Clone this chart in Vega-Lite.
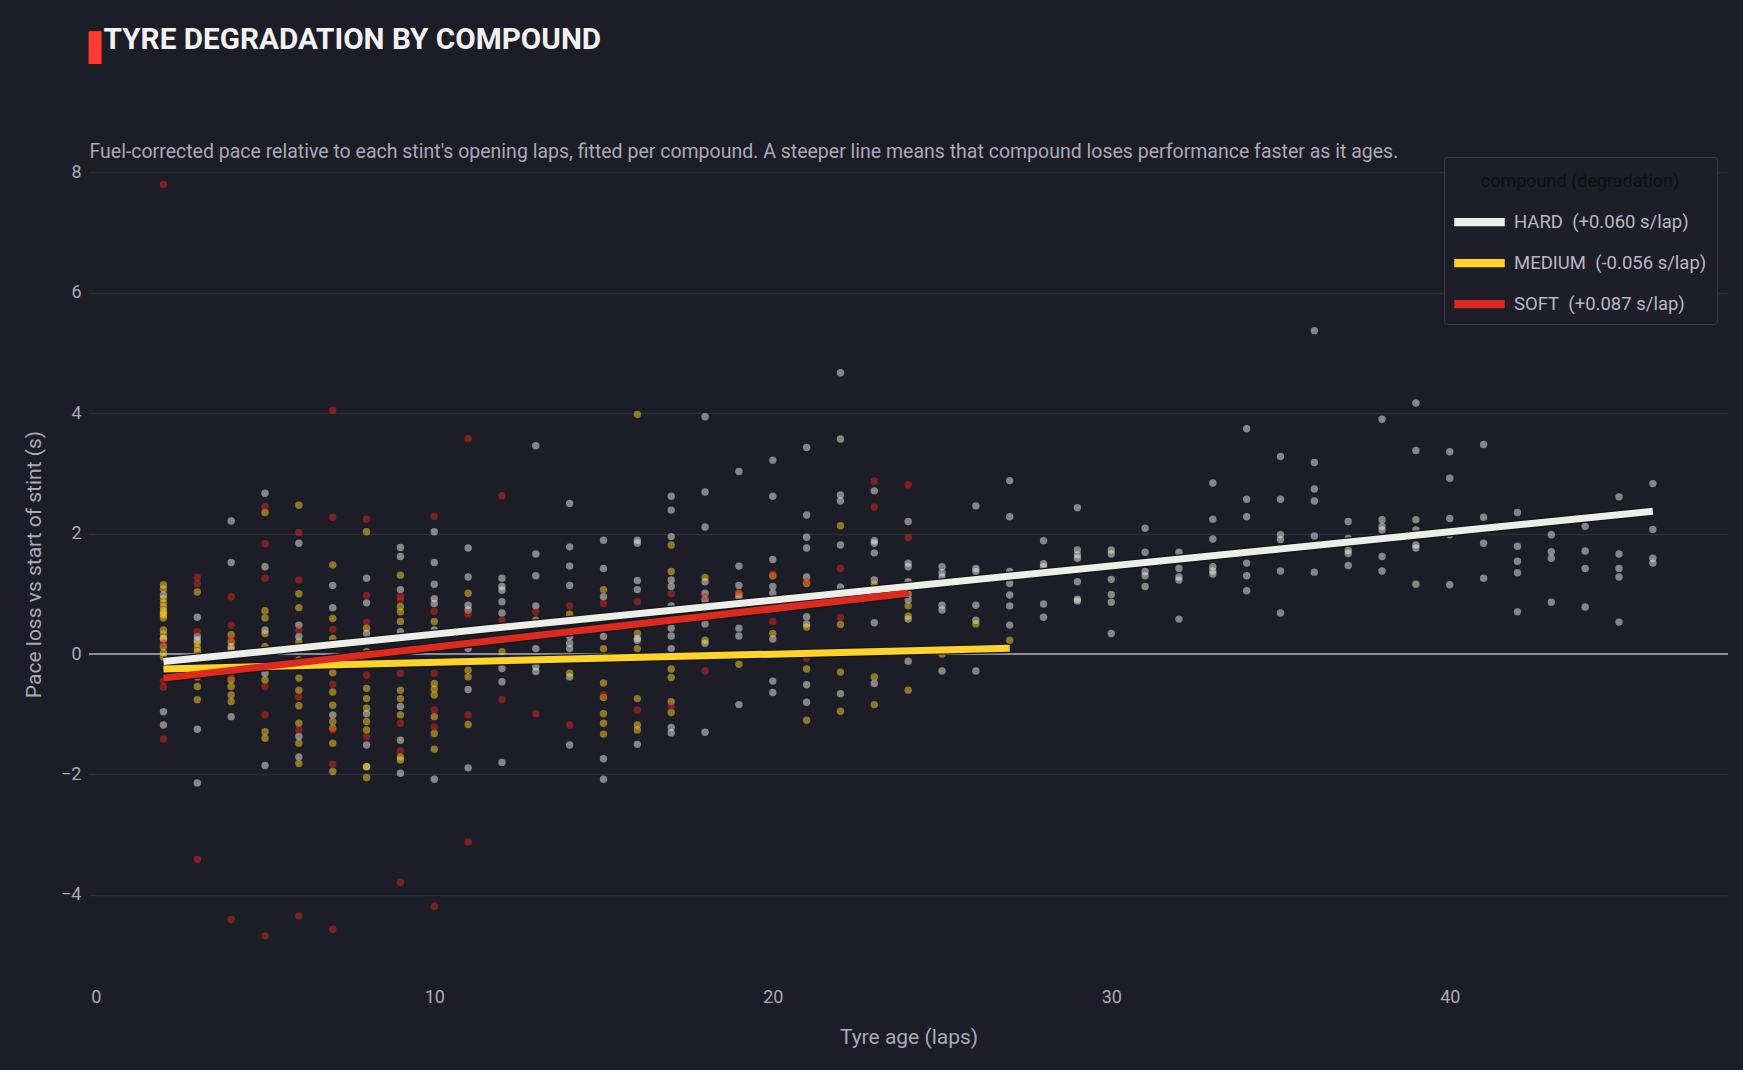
{
"$schema": "https://vega.github.io/schema/vega-lite/v6.json",
"width": 1639, "height": 834,
"autosize": {"type": "none"},
"padding": {"left": 89, "top": 147, "right": 15, "bottom": 89},
"background": "#1d1d27",
"title": {"text": "TYRE DEGRADATION BY COMPOUND", "dx": 14.6},
"config": {
  "font": "Roboto",
  "view": {"stroke": null},
  "title": {"anchor": "start", "frame": "group", "color": "#f2f2f5", "font": "Roboto", "fontSize": 29.7, "fontWeight": "bold", "offset": -22},
  "axis": {"domain": false, "ticks": false, "grid": false, "labelColor": "#a9a9b8", "labelFontSize": 18, "labelFont": "Roboto", "titleColor": "#a9a9b8", "titleFontSize": 21, "titleFontWeight": "normal", "titleFont": "Roboto"},
  "axisY": {"labelPadding": 8, "titlePadding": 16},
  "axisX": {"labelPadding": 7, "titlePadding": 20}
},
"datasets": {
"pts": [
{"compound":"HARD","age":2,"delta":0.98},{"compound":"HARD","age":2,"delta":0.25},{"compound":"HARD","age":2,"delta":-0.96},{"compound":"HARD","age":2,"delta":-1.18},
{"compound":"HARD","age":3,"delta":0.61},{"compound":"HARD","age":3,"delta":0.29},{"compound":"HARD","age":3,"delta":0.23},{"compound":"HARD","age":3,"delta":-1.25},{"compound":"HARD","age":3,"delta":-2.14},
{"compound":"HARD","age":4,"delta":2.21},{"compound":"HARD","age":4,"delta":1.52},{"compound":"HARD","age":4,"delta":0.12},{"compound":"HARD","age":4,"delta":-1.04},
{"compound":"HARD","age":5,"delta":2.67},{"compound":"HARD","age":5,"delta":1.45},{"compound":"HARD","age":5,"delta":0.4},{"compound":"HARD","age":5,"delta":-0.32},{"compound":"HARD","age":5,"delta":-1.85},
{"compound":"HARD","age":6,"delta":1.84},{"compound":"HARD","age":6,"delta":0.48},{"compound":"HARD","age":6,"delta":0.29},{"compound":"HARD","age":6,"delta":-1.37},{"compound":"HARD","age":6,"delta":-1.71},
{"compound":"HARD","age":7,"delta":1.14},{"compound":"HARD","age":7,"delta":0.77},{"compound":"HARD","age":7,"delta":-1.01},
{"compound":"HARD","age":8,"delta":1.26},{"compound":"HARD","age":8,"delta":0.85},{"compound":"HARD","age":8,"delta":0.34},{"compound":"HARD","age":8,"delta":-0.99},{"compound":"HARD","age":8,"delta":-1.51},{"compound":"HARD","age":8,"delta":-1.87},
{"compound":"HARD","age":9,"delta":1.77},{"compound":"HARD","age":9,"delta":1.62},{"compound":"HARD","age":9,"delta":1.07},{"compound":"HARD","age":9,"delta":0.37},{"compound":"HARD","age":9,"delta":-0.87},{"compound":"HARD","age":9,"delta":-1.43},{"compound":"HARD","age":9,"delta":-1.98},
{"compound":"HARD","age":10,"delta":2.03},{"compound":"HARD","age":10,"delta":1.52},{"compound":"HARD","age":10,"delta":1.16},{"compound":"HARD","age":10,"delta":0.92},{"compound":"HARD","age":10,"delta":0.84},{"compound":"HARD","age":10,"delta":0.4},{"compound":"HARD","age":10,"delta":-2.08},
{"compound":"HARD","age":11,"delta":1.76},{"compound":"HARD","age":11,"delta":1.28},{"compound":"HARD","age":11,"delta":0.81},{"compound":"HARD","age":11,"delta":0.73},{"compound":"HARD","age":11,"delta":0.09},{"compound":"HARD","age":11,"delta":-0.59},{"compound":"HARD","age":11,"delta":-1.89},
{"compound":"HARD","age":12,"delta":1.26},{"compound":"HARD","age":12,"delta":1.12},{"compound":"HARD","age":12,"delta":1.06},{"compound":"HARD","age":12,"delta":0.87},{"compound":"HARD","age":12,"delta":0.68},{"compound":"HARD","age":12,"delta":-0.24},{"compound":"HARD","age":12,"delta":-0.46},{"compound":"HARD","age":12,"delta":-1.8},
{"compound":"HARD","age":13,"delta":3.46},{"compound":"HARD","age":13,"delta":1.66},{"compound":"HARD","age":13,"delta":1.3},{"compound":"HARD","age":13,"delta":0.8},{"compound":"HARD","age":13,"delta":0.09},{"compound":"HARD","age":13,"delta":-0.21},{"compound":"HARD","age":13,"delta":-0.29},
{"compound":"HARD","age":14,"delta":2.5},{"compound":"HARD","age":14,"delta":1.78},{"compound":"HARD","age":14,"delta":1.46},{"compound":"HARD","age":14,"delta":1.14},{"compound":"HARD","age":14,"delta":0.29},{"compound":"HARD","age":14,"delta":0.18},{"compound":"HARD","age":14,"delta":0.09},{"compound":"HARD","age":14,"delta":-0.38},{"compound":"HARD","age":14,"delta":-1.51},
{"compound":"HARD","age":15,"delta":1.89},{"compound":"HARD","age":15,"delta":1.42},{"compound":"HARD","age":15,"delta":0.95},{"compound":"HARD","age":15,"delta":0.29},{"compound":"HARD","age":15,"delta":-1.74},{"compound":"HARD","age":15,"delta":-2.08},
{"compound":"HARD","age":16,"delta":1.89},{"compound":"HARD","age":16,"delta":1.84},{"compound":"HARD","age":16,"delta":1.22},{"compound":"HARD","age":16,"delta":1.07},{"compound":"HARD","age":16,"delta":0.26},{"compound":"HARD","age":16,"delta":0.23},{"compound":"HARD","age":16,"delta":-1.5},
{"compound":"HARD","age":17,"delta":2.62},{"compound":"HARD","age":17,"delta":2.39},{"compound":"HARD","age":17,"delta":1.95},{"compound":"HARD","age":17,"delta":1.23},{"compound":"HARD","age":17,"delta":1.12},{"compound":"HARD","age":17,"delta":0.8},{"compound":"HARD","age":17,"delta":0.43},{"compound":"HARD","age":17,"delta":0.3},{"compound":"HARD","age":17,"delta":0.09},{"compound":"HARD","age":17,"delta":-1.22},{"compound":"HARD","age":17,"delta":-1.31},
{"compound":"HARD","age":18,"delta":3.94},{"compound":"HARD","age":18,"delta":2.69},{"compound":"HARD","age":18,"delta":2.11},{"compound":"HARD","age":18,"delta":1.2},{"compound":"HARD","age":18,"delta":1.01},{"compound":"HARD","age":18,"delta":0.9},{"compound":"HARD","age":18,"delta":0.5},{"compound":"HARD","age":18,"delta":0.18},{"compound":"HARD","age":18,"delta":-1.3},
{"compound":"HARD","age":19,"delta":3.03},{"compound":"HARD","age":19,"delta":1.46},{"compound":"HARD","age":19,"delta":1.14},{"compound":"HARD","age":19,"delta":0.95},{"compound":"HARD","age":19,"delta":0.43},{"compound":"HARD","age":19,"delta":0.3},{"compound":"HARD","age":19,"delta":-0.84},
{"compound":"HARD","age":20,"delta":3.22},{"compound":"HARD","age":20,"delta":2.62},{"compound":"HARD","age":20,"delta":1.57},{"compound":"HARD","age":20,"delta":1.12},{"compound":"HARD","age":20,"delta":1.01},{"compound":"HARD","age":20,"delta":0.25},{"compound":"HARD","age":20,"delta":-0.45},{"compound":"HARD","age":20,"delta":-0.64},
{"compound":"HARD","age":21,"delta":3.43},{"compound":"HARD","age":21,"delta":2.31},{"compound":"HARD","age":21,"delta":1.94},{"compound":"HARD","age":21,"delta":1.76},{"compound":"HARD","age":21,"delta":1.28},{"compound":"HARD","age":21,"delta":0.62},{"compound":"HARD","age":21,"delta":0.5},{"compound":"HARD","age":21,"delta":-0.51},{"compound":"HARD","age":21,"delta":-0.8},
{"compound":"HARD","age":22,"delta":4.67},{"compound":"HARD","age":22,"delta":3.57},{"compound":"HARD","age":22,"delta":2.64},{"compound":"HARD","age":22,"delta":2.54},{"compound":"HARD","age":22,"delta":1.81},{"compound":"HARD","age":22,"delta":1.11},{"compound":"HARD","age":22,"delta":-0.66},
{"compound":"HARD","age":23,"delta":2.71},{"compound":"HARD","age":23,"delta":1.88},{"compound":"HARD","age":23,"delta":1.84},{"compound":"HARD","age":23,"delta":1.68},{"compound":"HARD","age":23,"delta":1.23},{"compound":"HARD","age":23,"delta":0.52},{"compound":"HARD","age":23,"delta":-0.49},
{"compound":"HARD","age":24,"delta":2.2},{"compound":"HARD","age":24,"delta":1.51},{"compound":"HARD","age":24,"delta":1.45},{"compound":"HARD","age":24,"delta":1.2},{"compound":"HARD","age":24,"delta":0.9},{"compound":"HARD","age":24,"delta":0.58},{"compound":"HARD","age":24,"delta":-0.12},
{"compound":"HARD","age":25,"delta":1.45},{"compound":"HARD","age":25,"delta":1.35},{"compound":"HARD","age":25,"delta":1.28},{"compound":"HARD","age":25,"delta":0.81},{"compound":"HARD","age":25,"delta":0.73},{"compound":"HARD","age":25,"delta":-0.28},
{"compound":"HARD","age":26,"delta":2.46},{"compound":"HARD","age":26,"delta":1.42},{"compound":"HARD","age":26,"delta":1.37},{"compound":"HARD","age":26,"delta":0.81},{"compound":"HARD","age":26,"delta":0.56},{"compound":"HARD","age":26,"delta":-0.28},
{"compound":"HARD","age":27,"delta":2.88},{"compound":"HARD","age":27,"delta":2.28},{"compound":"HARD","age":27,"delta":1.37},{"compound":"HARD","age":27,"delta":1.17},{"compound":"HARD","age":27,"delta":0.98},{"compound":"HARD","age":27,"delta":0.8},{"compound":"HARD","age":27,"delta":0.48},
{"compound":"HARD","age":28,"delta":1.88},{"compound":"HARD","age":28,"delta":1.5},{"compound":"HARD","age":28,"delta":1.45},{"compound":"HARD","age":28,"delta":0.83},{"compound":"HARD","age":28,"delta":0.61},
{"compound":"HARD","age":29,"delta":2.43},{"compound":"HARD","age":29,"delta":1.73},{"compound":"HARD","age":29,"delta":1.65},{"compound":"HARD","age":29,"delta":1.59},{"compound":"HARD","age":29,"delta":1.2},{"compound":"HARD","age":29,"delta":0.91},{"compound":"HARD","age":29,"delta":0.88},
{"compound":"HARD","age":30,"delta":1.73},{"compound":"HARD","age":30,"delta":1.66},{"compound":"HARD","age":30,"delta":1.24},{"compound":"HARD","age":30,"delta":0.99},{"compound":"HARD","age":30,"delta":0.86},{"compound":"HARD","age":30,"delta":0.34},
{"compound":"HARD","age":31,"delta":2.09},{"compound":"HARD","age":31,"delta":1.69},{"compound":"HARD","age":31,"delta":1.37},{"compound":"HARD","age":31,"delta":1.3},{"compound":"HARD","age":31,"delta":1.12},
{"compound":"HARD","age":32,"delta":1.69},{"compound":"HARD","age":32,"delta":1.42},{"compound":"HARD","age":32,"delta":1.28},{"compound":"HARD","age":32,"delta":1.23},{"compound":"HARD","age":32,"delta":0.58},
{"compound":"HARD","age":33,"delta":2.84},{"compound":"HARD","age":33,"delta":2.24},{"compound":"HARD","age":33,"delta":1.91},{"compound":"HARD","age":33,"delta":1.45},{"compound":"HARD","age":33,"delta":1.38},{"compound":"HARD","age":33,"delta":1.33},
{"compound":"HARD","age":34,"delta":3.74},{"compound":"HARD","age":34,"delta":2.57},{"compound":"HARD","age":34,"delta":2.28},{"compound":"HARD","age":34,"delta":1.51},{"compound":"HARD","age":34,"delta":1.3},{"compound":"HARD","age":34,"delta":1.05},
{"compound":"HARD","age":35,"delta":3.28},{"compound":"HARD","age":35,"delta":2.57},{"compound":"HARD","age":35,"delta":1.98},{"compound":"HARD","age":35,"delta":1.9},{"compound":"HARD","age":35,"delta":1.38},{"compound":"HARD","age":35,"delta":0.68},
{"compound":"HARD","age":36,"delta":5.37},{"compound":"HARD","age":36,"delta":3.18},{"compound":"HARD","age":36,"delta":2.74},{"compound":"HARD","age":36,"delta":2.54},{"compound":"HARD","age":36,"delta":1.96},{"compound":"HARD","age":36,"delta":1.36},
{"compound":"HARD","age":37,"delta":2.2},{"compound":"HARD","age":37,"delta":1.92},{"compound":"HARD","age":37,"delta":1.72},{"compound":"HARD","age":37,"delta":1.67},{"compound":"HARD","age":37,"delta":1.47},
{"compound":"HARD","age":38,"delta":3.9},{"compound":"HARD","age":38,"delta":2.23},{"compound":"HARD","age":38,"delta":2.12},{"compound":"HARD","age":38,"delta":2.06},{"compound":"HARD","age":38,"delta":1.62},{"compound":"HARD","age":38,"delta":1.38},
{"compound":"HARD","age":39,"delta":4.17},{"compound":"HARD","age":39,"delta":3.38},{"compound":"HARD","age":39,"delta":2.23},{"compound":"HARD","age":39,"delta":2.06},{"compound":"HARD","age":39,"delta":1.81},{"compound":"HARD","age":39,"delta":1.76},{"compound":"HARD","age":39,"delta":1.16},
{"compound":"HARD","age":40,"delta":3.36},{"compound":"HARD","age":40,"delta":2.92},{"compound":"HARD","age":40,"delta":2.25},{"compound":"HARD","age":40,"delta":1.98},{"compound":"HARD","age":40,"delta":1.15},
{"compound":"HARD","age":41,"delta":3.48},{"compound":"HARD","age":41,"delta":2.27},{"compound":"HARD","age":41,"delta":1.84},{"compound":"HARD","age":41,"delta":1.26},
{"compound":"HARD","age":42,"delta":2.35},{"compound":"HARD","age":42,"delta":1.79},{"compound":"HARD","age":42,"delta":1.54},{"compound":"HARD","age":42,"delta":1.35},{"compound":"HARD","age":42,"delta":0.7},
{"compound":"HARD","age":43,"delta":1.98},{"compound":"HARD","age":43,"delta":1.7},{"compound":"HARD","age":43,"delta":1.59},{"compound":"HARD","age":43,"delta":0.86},
{"compound":"HARD","age":44,"delta":2.12},{"compound":"HARD","age":44,"delta":1.71},{"compound":"HARD","age":44,"delta":1.42},{"compound":"HARD","age":44,"delta":0.78},
{"compound":"HARD","age":45,"delta":2.61},{"compound":"HARD","age":45,"delta":1.66},{"compound":"HARD","age":45,"delta":1.42},{"compound":"HARD","age":45,"delta":1.28},{"compound":"HARD","age":45,"delta":0.53},
{"compound":"HARD","age":46,"delta":2.83},{"compound":"HARD","age":46,"delta":2.07},{"compound":"HARD","age":46,"delta":1.59},{"compound":"HARD","age":46,"delta":1.51},
{"compound":"MEDIUM","age":2,"delta":1.15},{"compound":"MEDIUM","age":2,"delta":1.08},{"compound":"MEDIUM","age":2,"delta":0.92},{"compound":"MEDIUM","age":2,"delta":0.85},{"compound":"MEDIUM","age":2,"delta":0.78},{"compound":"MEDIUM","age":2,"delta":0.72},{"compound":"MEDIUM","age":2,"delta":0.68},{"compound":"MEDIUM","age":2,"delta":0.65},{"compound":"MEDIUM","age":2,"delta":0.6},{"compound":"MEDIUM","age":2,"delta":0.4},{"compound":"MEDIUM","age":2,"delta":0.33},{"compound":"MEDIUM","age":2,"delta":0.26},{"compound":"MEDIUM","age":2,"delta":0.12},{"compound":"MEDIUM","age":2,"delta":0.02},{"compound":"MEDIUM","age":2,"delta":-0.05},
{"compound":"MEDIUM","age":3,"delta":1.03},{"compound":"MEDIUM","age":3,"delta":0.18},{"compound":"MEDIUM","age":3,"delta":0.1},{"compound":"MEDIUM","age":3,"delta":0.04},{"compound":"MEDIUM","age":3,"delta":-0.38},{"compound":"MEDIUM","age":3,"delta":-0.54},{"compound":"MEDIUM","age":3,"delta":-0.76},
{"compound":"MEDIUM","age":4,"delta":0.32},{"compound":"MEDIUM","age":4,"delta":0.2},{"compound":"MEDIUM","age":4,"delta":0.07},{"compound":"MEDIUM","age":4,"delta":-0.43},{"compound":"MEDIUM","age":4,"delta":-0.54},{"compound":"MEDIUM","age":4,"delta":-0.68},{"compound":"MEDIUM","age":4,"delta":-0.79},
{"compound":"MEDIUM","age":5,"delta":2.35},{"compound":"MEDIUM","age":5,"delta":0.72},{"compound":"MEDIUM","age":5,"delta":0.6},{"compound":"MEDIUM","age":5,"delta":0.34},{"compound":"MEDIUM","age":5,"delta":0.12},{"compound":"MEDIUM","age":5,"delta":-0.43},{"compound":"MEDIUM","age":5,"delta":-1.29},{"compound":"MEDIUM","age":5,"delta":-1.4},
{"compound":"MEDIUM","age":6,"delta":2.47},{"compound":"MEDIUM","age":6,"delta":1.0},{"compound":"MEDIUM","age":6,"delta":0.77},{"compound":"MEDIUM","age":6,"delta":0.2},{"compound":"MEDIUM","age":6,"delta":-0.1},{"compound":"MEDIUM","age":6,"delta":-0.4},{"compound":"MEDIUM","age":6,"delta":-0.6},{"compound":"MEDIUM","age":6,"delta":-0.86},{"compound":"MEDIUM","age":6,"delta":-1.15},{"compound":"MEDIUM","age":6,"delta":-1.48},{"compound":"MEDIUM","age":6,"delta":-1.82},
{"compound":"MEDIUM","age":7,"delta":1.48},{"compound":"MEDIUM","age":7,"delta":0.59},{"compound":"MEDIUM","age":7,"delta":0.26},{"compound":"MEDIUM","age":7,"delta":-0.31},{"compound":"MEDIUM","age":7,"delta":-0.63},{"compound":"MEDIUM","age":7,"delta":-0.85},{"compound":"MEDIUM","age":7,"delta":-1.12},{"compound":"MEDIUM","age":7,"delta":-1.23},{"compound":"MEDIUM","age":7,"delta":-1.48},{"compound":"MEDIUM","age":7,"delta":-1.95},
{"compound":"MEDIUM","age":8,"delta":2.03},{"compound":"MEDIUM","age":8,"delta":0.43},{"compound":"MEDIUM","age":8,"delta":0.04},{"compound":"MEDIUM","age":8,"delta":-0.57},{"compound":"MEDIUM","age":8,"delta":-0.74},{"compound":"MEDIUM","age":8,"delta":-0.9},{"compound":"MEDIUM","age":8,"delta":-1.12},{"compound":"MEDIUM","age":8,"delta":-1.26},{"compound":"MEDIUM","age":8,"delta":-1.87},{"compound":"MEDIUM","age":8,"delta":-2.05},
{"compound":"MEDIUM","age":9,"delta":1.31},{"compound":"MEDIUM","age":9,"delta":0.79},{"compound":"MEDIUM","age":9,"delta":0.7},{"compound":"MEDIUM","age":9,"delta":0.54},{"compound":"MEDIUM","age":9,"delta":-0.6},{"compound":"MEDIUM","age":9,"delta":-0.74},{"compound":"MEDIUM","age":9,"delta":-1.01},{"compound":"MEDIUM","age":9,"delta":-1.71},{"compound":"MEDIUM","age":9,"delta":-1.76},
{"compound":"MEDIUM","age":10,"delta":0.54},{"compound":"MEDIUM","age":10,"delta":-0.49},{"compound":"MEDIUM","age":10,"delta":-0.58},{"compound":"MEDIUM","age":10,"delta":-0.68},{"compound":"MEDIUM","age":10,"delta":-1.04},{"compound":"MEDIUM","age":10,"delta":-1.32},{"compound":"MEDIUM","age":10,"delta":-1.58},
{"compound":"MEDIUM","age":11,"delta":1.01},{"compound":"MEDIUM","age":11,"delta":-0.27},{"compound":"MEDIUM","age":11,"delta":-0.38},{"compound":"MEDIUM","age":11,"delta":-1.17},
{"compound":"MEDIUM","age":12,"delta":0.04},
{"compound":"MEDIUM","age":13,"delta":0.56},
{"compound":"MEDIUM","age":14,"delta":0.66},{"compound":"MEDIUM","age":14,"delta":-0.32},
{"compound":"MEDIUM","age":15,"delta":1.07},{"compound":"MEDIUM","age":15,"delta":0.09},{"compound":"MEDIUM","age":15,"delta":-0.48},{"compound":"MEDIUM","age":15,"delta":-0.72},{"compound":"MEDIUM","age":15,"delta":-0.99},{"compound":"MEDIUM","age":15,"delta":-1.15},{"compound":"MEDIUM","age":15,"delta":-1.33},
{"compound":"MEDIUM","age":16,"delta":3.98},{"compound":"MEDIUM","age":16,"delta":0.34},{"compound":"MEDIUM","age":16,"delta":0.09},{"compound":"MEDIUM","age":16,"delta":-0.74},{"compound":"MEDIUM","age":16,"delta":-1.18},{"compound":"MEDIUM","age":16,"delta":-1.26},
{"compound":"MEDIUM","age":17,"delta":1.81},{"compound":"MEDIUM","age":17,"delta":1.37},{"compound":"MEDIUM","age":17,"delta":-0.25},{"compound":"MEDIUM","age":17,"delta":-0.39},{"compound":"MEDIUM","age":17,"delta":-0.79},{"compound":"MEDIUM","age":17,"delta":-0.97},
{"compound":"MEDIUM","age":18,"delta":1.27},{"compound":"MEDIUM","age":18,"delta":0.23},
{"compound":"MEDIUM","age":19,"delta":1.0},{"compound":"MEDIUM","age":19,"delta":-0.17},
{"compound":"MEDIUM","age":20,"delta":1.3},{"compound":"MEDIUM","age":20,"delta":0.34},
{"compound":"MEDIUM","age":21,"delta":1.17},{"compound":"MEDIUM","age":21,"delta":0.45},{"compound":"MEDIUM","age":21,"delta":-0.25},{"compound":"MEDIUM","age":21,"delta":-1.1},
{"compound":"MEDIUM","age":22,"delta":2.13},{"compound":"MEDIUM","age":22,"delta":0.49},{"compound":"MEDIUM","age":22,"delta":-0.3},{"compound":"MEDIUM","age":22,"delta":-0.95},
{"compound":"MEDIUM","age":23,"delta":1.15},{"compound":"MEDIUM","age":23,"delta":-0.38},{"compound":"MEDIUM","age":23,"delta":-0.84},
{"compound":"MEDIUM","age":24,"delta":1.0},{"compound":"MEDIUM","age":24,"delta":0.8},{"compound":"MEDIUM","age":24,"delta":0.63},{"compound":"MEDIUM","age":24,"delta":-0.6},
{"compound":"MEDIUM","age":25,"delta":0.0},
{"compound":"MEDIUM","age":26,"delta":0.5},
{"compound":"MEDIUM","age":27,"delta":0.23},
{"compound":"SOFT","age":2,"delta":7.8},{"compound":"SOFT","age":2,"delta":0.18},{"compound":"SOFT","age":2,"delta":-0.45},{"compound":"SOFT","age":2,"delta":-0.55},{"compound":"SOFT","age":2,"delta":-1.41},
{"compound":"SOFT","age":3,"delta":1.27},{"compound":"SOFT","age":3,"delta":1.17},{"compound":"SOFT","age":3,"delta":0.37},{"compound":"SOFT","age":3,"delta":-3.41},
{"compound":"SOFT","age":4,"delta":0.95},{"compound":"SOFT","age":4,"delta":0.48},{"compound":"SOFT","age":4,"delta":0.25},{"compound":"SOFT","age":4,"delta":-0.38},{"compound":"SOFT","age":4,"delta":-4.41},
{"compound":"SOFT","age":5,"delta":2.45},{"compound":"SOFT","age":5,"delta":1.83},{"compound":"SOFT","age":5,"delta":1.26},{"compound":"SOFT","age":5,"delta":-0.54},{"compound":"SOFT","age":5,"delta":-1.01},{"compound":"SOFT","age":5,"delta":-4.68},
{"compound":"SOFT","age":6,"delta":2.02},{"compound":"SOFT","age":6,"delta":1.23},{"compound":"SOFT","age":6,"delta":0.4},{"compound":"SOFT","age":6,"delta":-0.71},{"compound":"SOFT","age":6,"delta":-1.26},{"compound":"SOFT","age":6,"delta":-4.35},
{"compound":"SOFT","age":7,"delta":4.05},{"compound":"SOFT","age":7,"delta":2.27},{"compound":"SOFT","age":7,"delta":0.41},{"compound":"SOFT","age":7,"delta":-0.5},{"compound":"SOFT","age":7,"delta":-1.26},{"compound":"SOFT","age":7,"delta":-1.83},{"compound":"SOFT","age":7,"delta":-4.57},
{"compound":"SOFT","age":8,"delta":2.24},{"compound":"SOFT","age":8,"delta":0.97},{"compound":"SOFT","age":8,"delta":0.53},{"compound":"SOFT","age":8,"delta":-0.35},{"compound":"SOFT","age":8,"delta":-1.37},
{"compound":"SOFT","age":9,"delta":0.96},{"compound":"SOFT","age":9,"delta":0.9},{"compound":"SOFT","age":9,"delta":-0.32},{"compound":"SOFT","age":9,"delta":-1.15},{"compound":"SOFT","age":9,"delta":-1.61},{"compound":"SOFT","age":9,"delta":-3.79},
{"compound":"SOFT","age":10,"delta":2.29},{"compound":"SOFT","age":10,"delta":0.71},{"compound":"SOFT","age":10,"delta":-0.32},{"compound":"SOFT","age":10,"delta":-0.93},{"compound":"SOFT","age":10,"delta":-1.21},{"compound":"SOFT","age":10,"delta":-4.19},
{"compound":"SOFT","age":11,"delta":3.58},{"compound":"SOFT","age":11,"delta":0.66},{"compound":"SOFT","age":11,"delta":-1.01},{"compound":"SOFT","age":11,"delta":-3.12},
{"compound":"SOFT","age":12,"delta":2.63},{"compound":"SOFT","age":12,"delta":0.56},{"compound":"SOFT","age":12,"delta":-0.76},
{"compound":"SOFT","age":13,"delta":0.7},{"compound":"SOFT","age":13,"delta":-0.99},
{"compound":"SOFT","age":14,"delta":0.8},{"compound":"SOFT","age":14,"delta":-1.18},
{"compound":"SOFT","age":15,"delta":0.84},{"compound":"SOFT","age":15,"delta":-0.68},
{"compound":"SOFT","age":16,"delta":0.87},{"compound":"SOFT","age":16,"delta":-0.93},
{"compound":"SOFT","age":17,"delta":1.0},{"compound":"SOFT","age":17,"delta":-0.87},
{"compound":"SOFT","age":18,"delta":0.95},{"compound":"SOFT","age":18,"delta":-0.28},
{"compound":"SOFT","age":19,"delta":1.02},
{"compound":"SOFT","age":20,"delta":1.33},{"compound":"SOFT","age":20,"delta":0.54},
{"compound":"SOFT","age":21,"delta":1.2},{"compound":"SOFT","age":21,"delta":-0.07},
{"compound":"SOFT","age":22,"delta":1.42},{"compound":"SOFT","age":22,"delta":0.61},
{"compound":"SOFT","age":23,"delta":2.87},{"compound":"SOFT","age":23,"delta":2.44},
{"compound":"SOFT","age":24,"delta":2.81},{"compound":"SOFT","age":24,"delta":1.93}
],
"fits": [
{"compound":"HARD","age":2,"delta":-0.125},{"compound":"HARD","age":46,"delta":2.37},
{"compound":"MEDIUM","age":2,"delta":-0.25},{"compound":"MEDIUM","age":27,"delta":0.095},
{"compound":"SOFT","age":2,"delta":-0.4},{"compound":"SOFT","age":24,"delta":1.01}
]
},
"layer": [
{
  "data": {"values": [{"zero": 0}]},
  "mark": {"type": "rule", "color": "#8c8c98", "strokeWidth": 2},
  "encoding": {"y": {"field": "zero", "type": "quantitative", "axis": null}}
},
{
  "data": {"name": "pts"},
  "mark": {"type": "circle", "size": 55, "opacity": 0.5},
  "encoding": {
    "x": {"field": "age", "type": "quantitative", "title": "Tyre age (laps)", "scale": {"domain": [-0.2, 48.22], "nice": false, "zero": false}, "axis": {"orient": "bottom", "values": [0, 10, 20, 30, 40]}},
    "y": {"field": "delta", "type": "quantitative", "title": "Pace loss vs start of stint (s)", "scale": {"domain": [-5.43, 8.42], "nice": false, "zero": false}, "axis": {"values": [-4, -2, 0, 2, 4, 6, 8], "grid": true, "gridColor": "#2d2d3a", "gridWidth": 1.5}},
    "color": {"field": "compound", "type": "nominal", "scale": {"domain": ["HARD", "MEDIUM", "SOFT"], "range": ["#eeeee8", "#ffd42a", "#dc2a1e"]}, "legend": {
      "orient": "none", "legendX": 1355, "legendY": 10, "direction": "vertical",
      "title": "compound (degradation)", "titleColor": "#111111", "titleFontSize": 18, "titleFontWeight": "normal", "titleFont": "Roboto", "titleAnchor": "middle", "titleLimit": 400, "titleBaseline": "line-top", "titleLineHeight": 30, "titlePadding": 11.6,
      "labelExpr": "datum.label == 'HARD' ? 'HARD\u00a0 (+0.060 s/lap)' : datum.label == 'MEDIUM' ? 'MEDIUM\u00a0 (-0.056 s/lap)' : 'SOFT\u00a0 (+0.087 s/lap)'",
      "labelColor": "#b8b8c4", "labelFontSize": 18.5, "labelFont": "Roboto", "labelOffset": 9, "labelLimit": 400,
      "symbolType": "M-1,-0.14H1V0.14H-1Z", "symbolSize": 2401, "rowPadding": 6,
      "padding": 10, "strokeColor": "#3a3a48", "fillColor": "#1e1e28", "cornerRadius": 3,
      "encode": {"symbols": {"update": {"fill": {"scale": "color", "field": "value"}, "stroke": {"value": "#15151c"}, "strokeWidth": {"value": 1.5}, "opacity": {"value": 1}}}}
    }}
  }
},
{
  "data": {"name": "fits"},
  "mark": {"type": "line", "color": "#15151c", "strokeWidth": 9.5, "strokeCap": "butt"},
  "encoding": {
    "x": {"field": "age", "type": "quantitative", "axis": {"orient": "top", "title": "Fuel-corrected pace relative to each stint's opening laps, fitted per compound. A steeper line means that compound loses performance faster as it ages.", "labels": false, "grid": false, "titleFontSize": 19.5, "titleColor": "#a9a9b8", "titleAngle": 0, "titleAlign": "left", "titleBaseline": "alphabetic", "titleX": 0, "titleY": 10}},
    "y": {"field": "delta", "type": "quantitative", "axis": null},
    "detail": {"field": "compound"}
  }
},
{
  "data": {"name": "fits"},
  "mark": {"type": "line", "strokeWidth": 7, "strokeCap": "butt"},
  "encoding": {
    "x": {"field": "age", "type": "quantitative", "axis": null},
    "y": {"field": "delta", "type": "quantitative", "axis": {"orient": "left", "title": "\u258a", "labels": false, "grid": false, "titleFont": "DejaVu Sans Mono", "titleFontSize": 27.5, "titleColor": "#ff3b30", "titleAngle": 0, "titleAlign": "left", "titleBaseline": "alphabetic", "titleX": -1, "titleY": -91}},
    "color": {"field": "compound", "type": "nominal", "legend": {
      "orient": "none", "legendX": 1355, "legendY": 10, "direction": "vertical",
      "title": "compound (degradation)", "titleColor": "#111111", "titleFontSize": 18, "titleFontWeight": "normal", "titleFont": "Roboto", "titleAnchor": "middle", "titleLimit": 400, "titleBaseline": "line-top", "titleLineHeight": 30, "titlePadding": 11.6,
      "labelExpr": "datum.label == 'HARD' ? 'HARD\u00a0 (+0.060 s/lap)' : datum.label == 'MEDIUM' ? 'MEDIUM\u00a0 (-0.056 s/lap)' : 'SOFT\u00a0 (+0.087 s/lap)'",
      "labelColor": "#b8b8c4", "labelFontSize": 18.5, "labelFont": "Roboto", "labelOffset": 9, "labelLimit": 400,
      "symbolType": "M-1,-0.14H1V0.14H-1Z", "symbolSize": 2401, "rowPadding": 6,
      "padding": 10, "strokeColor": "#3a3a48", "fillColor": "#1e1e28", "cornerRadius": 3,
      "encode": {"symbols": {"update": {"fill": {"scale": "color", "field": "value"}, "stroke": {"value": "#15151c"}, "strokeWidth": {"value": 1.5}, "opacity": {"value": 1}}}}
    }}
  }
}
],
"resolve": {"axis": {"x": "independent", "y": "independent"}}
}
